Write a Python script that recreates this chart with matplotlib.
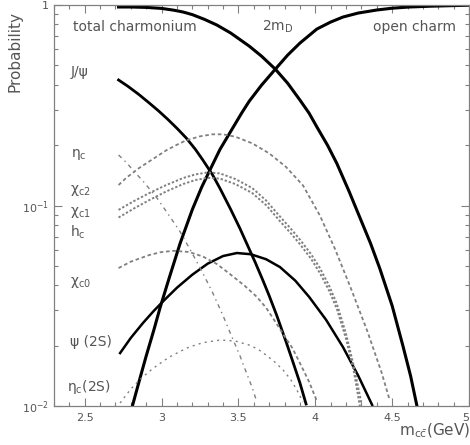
import numpy as np
import matplotlib
matplotlib.use("Agg")
import matplotlib.pyplot as plt
from matplotlib.ticker import FixedLocator, MultipleLocator, LogLocator, NullFormatter

plt.rcParams["font.family"] = ["DejaVu Sans"]
plt.rcParams["mathtext.fontset"] = "dejavusans"
plt.rcParams["mathtext.default"] = "regular"

# --------------------------------------------------
# data: m in GeV, log10(probability)
# --------------------------------------------------
m_total = [2.72, 2.80, 2.90, 3.00, 3.08, 3.14, 3.20, 3.28, 3.36, 3.45, 3.57, 3.65, 3.74,
           3.82, 3.90, 3.96, 4.01, 4.08, 4.14, 4.22, 4.29, 4.36, 4.42, 4.50, 4.57, 4.62, 4.66]
lp_total = [-0.010, -0.010, -0.012, -0.017, -0.026, -0.035, -0.048, -0.072, -0.100, -0.140,
            -0.205, -0.255, -0.320, -0.390, -0.474, -0.540, -0.608, -0.700, -0.790, -0.930,
            -1.060, -1.190, -1.315, -1.500, -1.700, -1.850, -1.995]

m_open = [2.81, 2.86, 2.90, 2.95, 2.99, 3.05, 3.12, 3.20, 3.26, 3.31, 3.38, 3.45, 3.52, 3.57,
          3.65, 3.74, 3.82, 3.90, 4.01, 4.10, 4.18, 4.28, 4.40, 4.50, 4.61, 4.75, 4.90, 5.0]
lp_open = [-2.0, -1.86, -1.75, -1.62, -1.51, -1.36, -1.19, -1.02, -0.91, -0.83, -0.72, -0.63,
           -0.54, -0.48, -0.40, -0.32, -0.25, -0.19, -0.12, -0.085, -0.060, -0.040, -0.025,
           -0.016, -0.010, -0.006, -0.003, -0.001]

m_jpsi = [2.72, 2.78, 2.85, 2.92, 2.98, 3.04, 3.10, 3.16, 3.22, 3.27, 3.33, 3.38, 3.45, 3.51,
          3.56, 3.61, 3.66, 3.70, 3.75, 3.81, 3.85, 3.90, 3.94]
lp_jpsi = [-0.374, -0.405, -0.445, -0.489, -0.528, -0.570, -0.615, -0.663, -0.720, -0.775,
           -0.845, -0.915, -1.020, -1.115, -1.200, -1.285, -1.375, -1.450, -1.550, -1.680,
           -1.770, -1.885, -1.990]

m_etac = [2.72, 2.77, 2.81, 2.89, 2.97, 3.04, 3.12, 3.20, 3.26, 3.33, 3.40, 3.46, 3.51, 3.55,
          3.59, 3.62]
lp_etac = [-0.748, -0.785, -0.820, -0.888, -0.963, -1.040, -1.130, -1.240, -1.325, -1.431,
           -1.550, -1.660, -1.750, -1.830, -1.910, -1.980]

m_chic2 = [2.72, 2.77, 2.85, 2.92, 3.03, 3.10, 3.16, 3.25, 3.33, 3.40, 3.48, 3.59, 3.70, 3.81,
           3.92, 4.03, 4.13, 4.23, 4.34, 4.43, 4.48]
lp_chic2 = [-0.898, -0.862, -0.815, -0.780, -0.725, -0.697, -0.675, -0.655, -0.645, -0.645,
            -0.657, -0.690, -0.740, -0.808, -0.900, -1.050, -1.220, -1.410, -1.630, -1.830,
            -1.960]

m_chic1 = [2.72, 2.82, 2.92, 3.03, 3.14, 3.22, 3.30, 3.38, 3.48, 3.59, 3.68, 3.77, 3.84, 3.90,
           3.97, 4.03, 4.09, 4.14, 4.20, 4.25, 4.30]
lp_chic1 = [-1.022, -0.978, -0.938, -0.898, -0.863, -0.845, -0.835, -0.840, -0.868, -0.913,
            -0.975, -1.055, -1.115, -1.170, -1.240, -1.312, -1.400, -1.490, -1.640, -1.800,
            -1.985]

m_hc = [2.72, 2.82, 2.92, 3.03, 3.14, 3.22, 3.30, 3.38, 3.48, 3.59, 3.68, 3.77, 3.84, 3.90,
        3.97, 4.03, 4.09, 4.14, 4.20, 4.25, 4.29]
lp_hc = [-1.060, -1.015, -0.973, -0.930, -0.893, -0.873, -0.862, -0.866, -0.893, -0.938,
         -0.998, -1.078, -1.138, -1.193, -1.263, -1.337, -1.425, -1.515, -1.665, -1.825, -2.0]

m_chic0 = [2.72, 2.80, 2.92, 3.00, 3.08, 3.18, 3.27, 3.36, 3.45, 3.54, 3.62, 3.68, 3.74, 3.79,
           3.85, 3.90, 3.96, 4.01]
lp_chic0 = [-1.312, -1.280, -1.247, -1.232, -1.226, -1.232, -1.255, -1.292, -1.345, -1.400,
            -1.456, -1.510, -1.580, -1.640, -1.710, -1.786, -1.880, -1.975]

m_psi2s = [2.73, 2.80, 2.88, 2.95, 3.02, 3.10, 3.20, 3.30, 3.40, 3.49, 3.58, 3.68, 3.77, 3.87,
           3.96, 4.07, 4.18, 4.28, 4.37]
lp_psi2s = [-1.736, -1.660, -1.585, -1.525, -1.470, -1.410, -1.345, -1.290, -1.252, -1.237,
            -1.243, -1.268, -1.307, -1.375, -1.456, -1.570, -1.706, -1.850, -1.995]

m_etac2s = [2.73, 2.80, 2.87, 2.94, 3.00, 3.05, 3.12, 3.18, 3.27, 3.38, 3.48, 3.57, 3.63, 3.68,
            3.74, 3.79, 3.84, 3.88, 3.92]
lp_etac2s = [-1.985, -1.915, -1.860, -1.815, -1.782, -1.756, -1.728, -1.706, -1.684, -1.671,
             -1.676, -1.696, -1.718, -1.746, -1.783, -1.820, -1.868, -1.920, -1.980]

x_ticks = [2.5, 3, 3.5, 4, 4.5, 5]
x_ticklabels = ["2.5", "3", "3.5", "4", "4.5", "5"]
y_ticks = [0.01, 0.1, 1]
y_ticklabels = ["10$^{-2}$", "10$^{-1}$", "1"]

# --------------------------------------------------
# figure
# --------------------------------------------------
W, H = 470, 445
fig = plt.figure(figsize=(W / 100, H / 100), dpi=100)
ax = fig.add_axes([54 / W, (H - 406) / H, 415 / W, 401 / H])

txt = "#555555"
grey = "#808080"


def curve(m, lp, **kw):
    ax.plot(m, np.power(10.0, lp), **kw)


curve(m_total, lp_total, color="black", lw=2.2)
curve(m_open, lp_open, color="black", lw=2.2)
curve(m_jpsi, lp_jpsi, color="black", lw=2.0)
curve(m_psi2s, lp_psi2s, color="black", lw=1.8)
curve(m_etac, lp_etac, color=grey, lw=1.0, ls=(0, (3, 3, 1, 3)))
curve(m_chic2, lp_chic2, color=grey, lw=1.3, ls=(0, (2, 1.5)))
curve(m_chic1, lp_chic1, color=grey, lw=1.4, ls=(0, (1.2, 1)))
curve(m_hc, lp_hc, color=grey, lw=1.4, ls=(0, (1.2, 1)))
curve(m_chic0, lp_chic0, color=grey, lw=1.3, ls=(0, (2, 1.5)))
curve(m_etac2s, lp_etac2s, color=grey, lw=1.0, ls=(0, (1.5, 3)))

ax.set_yscale("log")
ax.set_xlim(2.3, 5.0)
ax.set_ylim(0.01, 1)

ax.xaxis.set_major_locator(FixedLocator(x_ticks))
ax.set_xticklabels(x_ticklabels)
ax.xaxis.set_minor_locator(MultipleLocator(0.1))
ax.yaxis.set_major_locator(FixedLocator(y_ticks))
ax.set_yticklabels(y_ticklabels)
ax.yaxis.set_minor_locator(LogLocator(base=10, subs=np.arange(2, 10)))
ax.yaxis.set_minor_formatter(NullFormatter())
ax.get_xticklabels()[-1].set_ha("right")

ax.tick_params(which="both", direction="in", top=True, right=True,
               colors=grey, labelcolor=txt, labelsize=8, width=0.8)
ax.tick_params(which="major", length=6)
ax.tick_params(which="minor", length=3)
ax.tick_params(axis="x", pad=5)
for s in ax.spines.values():
    s.set_color(grey)
    s.set_linewidth(0.9)
    s.set_linestyle((0, (1, 1)))

# --------------------------------------------------
# labels
# --------------------------------------------------
def lab(px, py, s, size=10):
    ax.text((px - 54) / 415, (406 - py) / 401, s, transform=ax.transAxes,
            ha="left", va="center", fontsize=size, color=txt)

lab(73, 27, "total charmonium")
lab(262, 27, "2m$_D$")
lab(373, 27, "open charm")
lab(71, 72, "J/ψ")
lab(71, 155, "η$_c$")
lab(70, 190, "χ$_{c2}$")
lab(70, 213, "χ$_{c1}$")
lab(70, 232, "h$_c$")
lab(70, 283, "χ$_{c0}$")
lab(70, 342, "ψ (2S)")
lab(67, 387, "η$_c$(2S)")

fig.text(15 / W, 1 - 51 / H, "Probability", rotation=90, ha="center",
         va="center", fontsize=11, color=txt)
fig.text(1.0, 1 - 431 / H, r"m$_{c\bar{c}}$(GeV)", ha="right", va="center",
         fontsize=11, color=txt)

fig.savefig("out.png", dpi=100)
